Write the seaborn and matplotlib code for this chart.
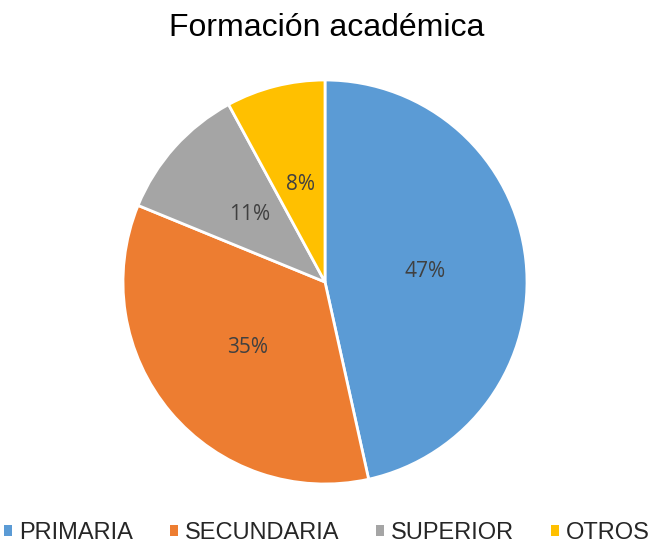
import matplotlib
matplotlib.use("Agg")
import matplotlib.pyplot as plt
import seaborn as sns
from matplotlib.patches import Patch

sns.set_theme(style="white")
plt.rcParams["font.family"] = ["Liberation Sans", "DejaVu Sans"]

categorias = ["PRIMARIA", "SECUNDARIA", "SUPERIOR", "OTROS"]
valores = [47, 35, 11, 8]
colores = ["#5B9BD5", "#ED7D31", "#A5A5A5", "#FFC000"]
titulo = "Formación académica"

fig = plt.figure(figsize=(6.54, 5.46), dpi=100)
W, H = 654, 546
cx, cy, r = 325, 282, 202
ax = fig.add_axes([(cx - r) / W, (H - cy - r) / H, 2 * r / W, 2 * r / H])

wedges, textos, pcts = ax.pie(
    valores,
    colors=colores,
    startangle=90,
    counterclock=False,
    autopct="%.0f%%",
    pctdistance=0.5,
    wedgeprops=dict(edgecolor="white", linewidth=2),
    textprops=dict(color="#404040", fontsize=15, family=["Open Sans", "DejaVu Sans"]),
)
ax.set_xlim(-1, 1)
ax.set_ylim(-1, 1)
ax.set_aspect("equal")
ax.axis("off")

fig.text(0.5, 1 - 28 / H, titulo, ha="center", va="center", fontsize=23, color="black")

handles = [Patch(facecolor=c, edgecolor="none") for c in colores]
fig.legend(
    handles,
    categorias,
    loc="center",
    bbox_to_anchor=(0.5, 1 - 533 / H),
    ncol=4,
    frameon=False,
    fontsize=17,
    handlelength=0.34,
    handleheight=0.34,
    handletextpad=0.3,
    columnspacing=1.55,
    borderpad=0,
    borderaxespad=0,
)

fig.savefig("out.png", dpi=100)
